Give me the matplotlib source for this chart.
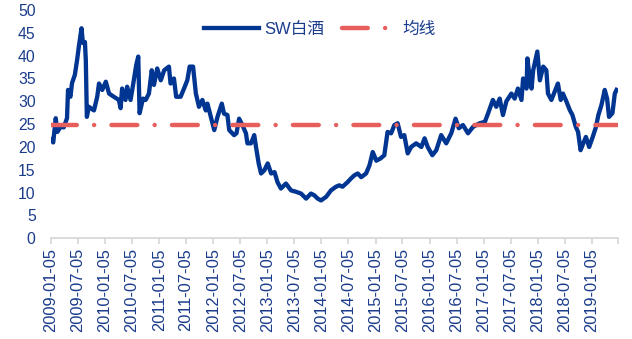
import matplotlib
matplotlib.use('Agg')
import matplotlib.pyplot as plt
import pandas as pd

plt.rcParams['font.family'] = ['Liberation Sans', 'Noto Sans CJK SC']

# SW白酒 PE
dates = ['2009-01-05', '2009-01-20', '2009-02-06', '2009-02-17', '2009-03-10', '2009-04-01',
         '2009-04-23', '2009-04-30', '2009-05-16', '2009-05-27', '2009-06-15', '2009-06-30',
         '2009-07-12', '2009-07-30', '2009-08-08', '2009-08-22', '2009-08-28', '2009-09-04',
         '2009-09-18', '2009-10-22', '2009-11-13', '2009-11-25', '2009-12-17', '2010-01-10',
         '2010-02-01', '2010-03-05', '2010-04-08', '2010-04-20', '2010-04-30', '2010-05-23',
         '2010-06-03', '2010-06-26', '2010-07-18', '2010-08-03', '2010-08-17', '2010-08-26',
         '2010-09-18', '2010-10-06', '2010-10-28', '2010-11-16', '2010-12-01', '2010-12-23',
         '2011-01-16', '2011-02-08', '2011-03-12', '2011-03-23', '2011-04-15', '2011-04-30',
         '2011-05-30', '2011-06-22', '2011-07-14', '2011-07-30', '2011-08-22', '2011-09-10',
         '2011-10-01', '2011-10-24', '2011-11-16', '2011-11-27', '2011-12-20', '2012-01-12',
         '2012-02-03', '2012-03-03', '2012-03-18', '2012-04-10', '2012-04-22', '2012-05-25',
         '2012-06-10', '2012-06-28', '2012-07-20', '2012-08-13', '2012-08-23', '2012-09-16',
         '2012-10-08', '2012-10-20', '2012-11-07', '2012-11-23', '2012-12-15', '2013-01-07',
         '2013-01-30', '2013-02-22', '2013-03-14', '2013-04-06', '2013-05-10', '2013-06-13',
         '2013-07-16', '2013-08-20', '2013-09-23', '2013-10-26', '2013-11-18', '2013-12-10',
         '2014-01-02', '2014-02-06', '2014-03-10', '2014-04-13', '2014-05-05', '2014-05-27',
         '2014-06-30', '2014-07-23', '2014-08-15', '2014-09-07', '2014-09-30', '2014-11-02',
         '2014-11-25', '2014-12-17', '2015-01-10', '2015-02-08', '2015-03-05', '2015-03-27',
         '2015-04-20', '2015-05-12', '2015-06-03', '2015-06-26', '2015-07-18', '2015-08-10',
         '2015-09-02', '2015-10-06', '2015-11-10', '2015-12-02', '2015-12-23', '2016-01-23',
         '2016-02-19', '2016-03-23', '2016-04-26', '2016-05-30', '2016-06-28', '2016-07-20',
         '2016-08-17', '2016-09-20', '2016-10-24', '2016-12-08', '2017-01-12', '2017-02-03',
         '2017-03-07', '2017-03-30', '2017-04-22', '2017-05-14', '2017-06-06', '2017-07-10',
         '2017-08-01', '2017-08-23', '2017-09-16', '2017-09-27', '2017-10-20', '2017-10-26',
         '2017-11-12', '2017-11-23', '2017-12-04', '2018-01-01', '2018-01-18', '2018-02-10',
         '2018-03-03', '2018-03-14', '2018-04-06', '2018-04-28', '2018-05-20', '2018-06-08',
         '2018-06-23', '2018-07-16', '2018-08-08', '2018-08-26', '2018-09-18', '2018-10-03',
         '2018-10-20', '2018-11-07', '2018-11-25', '2018-12-17', '2019-01-10', '2019-02-01',
         '2019-02-17', '2019-03-10', '2019-04-01', '2019-04-17', '2019-04-30', '2019-05-23',
         '2019-06-08', '2019-06-20']
pe = [21.6, 21.0, 26.3, 23.3, 24.4, 24.3,
      26.3, 32.5, 31.0, 34.0, 35.8, 39.0,
      42.0, 46.0, 42.8, 43.0, 39.0, 26.6,
      28.8, 28.0, 31.0, 33.9, 32.5, 34.3,
      31.7, 31.0, 30.3, 28.5, 32.8, 30.3,
      33.2, 30.3, 34.6, 37.9, 39.8, 27.4,
      30.6, 30.3, 31.7, 36.8, 33.6, 37.2,
      34.6, 36.8, 37.6, 33.9, 35.0, 31.0,
      31.0, 32.8, 34.6, 37.6, 37.6, 31.7,
      28.8, 30.3, 28.0, 29.5, 26.6, 23.7,
      26.6, 29.5, 27.3, 27.0, 23.7, 22.6,
      23.0, 26.2, 24.8, 23.0, 20.8, 20.8,
      22.6, 20.0, 16.4, 14.2, 14.9, 16.4,
      14.2, 14.5, 12.3, 10.9, 12.0, 10.5,
      10.2, 9.8, 8.7, 9.8, 9.4, 8.7,
      8.3, 9.1, 10.5, 11.3, 11.6, 11.3,
      12.3, 13.1, 13.8, 14.2, 13.4, 14.2,
      16.0, 18.9, 17.0, 17.5, 18.2, 23.3,
      23.0, 24.8, 25.2, 22.2, 22.6, 18.6,
      20.0, 20.8, 20.0, 21.9, 20.0, 18.2,
      19.3, 22.6, 20.8, 23.0, 26.2, 24.1,
      24.8, 23.0, 24.4, 25.2, 25.5, 27.4,
      30.3, 28.8, 30.6, 27.0, 30.0, 31.7,
      30.6, 32.8, 30.3, 35.0, 32.8, 39.4,
      34.6, 32.8, 36.8, 40.9, 34.6, 37.6,
      36.8, 31.7, 30.3, 32.1, 33.9, 30.3,
      31.7, 30.0, 28.1, 27.0, 24.4, 23.3,
      19.3, 20.8, 22.2, 20.0, 22.2, 24.4,
      27.0, 29.2, 32.5, 30.6, 26.6, 27.4,
      31.7, 32.5]
mean_pe = 24.8

tick_labels = ['2009-01-05', '2009-07-05', '2010-01-05', '2010-07-05', '2011-01-05',
               '2011-07-05', '2012-01-05', '2012-07-05', '2013-01-05', '2013-07-05',
               '2014-01-05', '2014-07-05', '2015-01-05', '2015-07-05', '2016-01-05',
               '2016-07-05', '2017-01-05', '2017-07-05', '2018-01-05', '2018-07-05',
               '2019-01-05']
axis_end = '2019-06-29'

blue = '#003591'
red = '#E65F5C'
text_blue = '#1A3C8C'
grey = '#D9D9D9'

x = pd.to_datetime(dates)
fig = plt.figure(figsize=(6.32, 3.39), dpi=100)
ax = fig.add_axes([0.0807, 0.297, 0.897, 0.6735])

ax.plot(x, pe, color=blue, lw=3.1, solid_joinstyle='round', label='SW白酒')
ax.plot([x[0], x[-1]], [mean_pe, mean_pe], color=red, lw=3.2,
        linestyle=(0, (5.8, 3.9, 0.01, 3.9)), dash_capstyle='round', label='均线')

ax.set_ylim(0, 50)
ax.set_yticks(range(0, 51, 5))
ax.set_xlim(pd.Timestamp(tick_labels[0]), pd.Timestamp(axis_end))
ticks = list(pd.to_datetime(tick_labels)) + [pd.Timestamp(axis_end)]
ax.set_xticks(ticks)
ax.set_xticklabels(tick_labels + [''], rotation=90, fontsize=11.8, color=text_blue)

for s in ['top', 'right', 'left']:
    ax.spines[s].set_visible(False)
ax.spines['bottom'].set_color(grey)
ax.spines['bottom'].set_linewidth(1.3)
ax.tick_params(axis='x', colors=grey, length=4, width=1.3, pad=3, labelcolor=text_blue)
ax.tick_params(axis='y', length=0, pad=11, labelsize=11.3, labelcolor=text_blue)

leg = fig.legend(loc='center', bbox_to_anchor=(0.506, 0.9145), ncol=2, frameon=False,
                 fontsize=12, handlelength=3.3, handletextpad=0.3, columnspacing=1.1)
for t in leg.get_texts():
    t.set_color(text_blue)

fig.savefig('out.png', dpi=100)
